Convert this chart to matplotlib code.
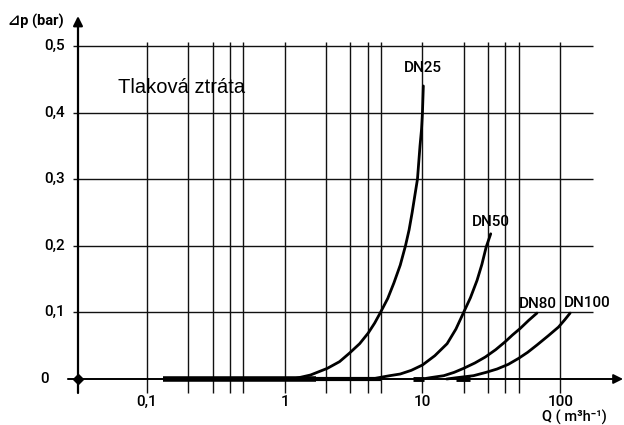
import matplotlib
matplotlib.use("Agg")
import matplotlib.pyplot as plt

# pressure loss curves (Q in m3/h, dp in bar)
dn25_q = [1.15, 1.54, 2.04, 2.5, 2.96, 3.5, 4.04, 4.5, 4.96, 5.6, 6.2, 6.9, 7.53,
          8.0, 8.42, 8.8, 9.2, 9.6, 9.85, 10.0, 10.15]
dn25_dp = [0.0, 0.006, 0.016, 0.026, 0.039, 0.053, 0.069, 0.084, 0.1, 0.121, 0.144,
           0.171, 0.2, 0.224, 0.25, 0.275, 0.3, 0.35, 0.375, 0.4, 0.44]

dn50_q = [4.3, 4.96, 5.8, 6.9, 8.3, 10.0, 12.3, 15.1, 17.5, 19.7, 22.3, 24.9, 27.0, 29.0, 31.3]
dn50_dp = [0.0, 0.0025, 0.005, 0.0075, 0.013, 0.021, 0.035, 0.053, 0.075, 0.098, 0.122,
           0.148, 0.172, 0.198, 0.218]

dn80_q = [10.0, 11.4, 14.3, 17.0, 19.9, 24.0, 28.6, 34.0, 39.9, 45.0, 51.3, 59.0, 67.8]
dn80_dp = [0.0, 0.002, 0.005, 0.01, 0.016, 0.024, 0.033, 0.044, 0.056, 0.066, 0.076,
           0.088, 0.099]

dn100_q = [15.0, 17.8, 23.5, 29.0, 34.8, 42.0, 49.9, 58.0, 67.8, 82.0, 97.2, 108.0, 118.0]
dn100_dp = [0.0, 0.002, 0.005, 0.01, 0.015, 0.022, 0.031, 0.04, 0.051, 0.065, 0.078,
            0.089, 0.099]

# thick bars along the zero line (start, end)
bars = [(0.131, 1.7), (1.7, 5.0), (8.6, 10.3), (17.5, 22.0)]
bar_widths = [4.0, 3.0, 3.5, 3.5]

labels = ["DN25", "DN50", "DN80", "DN100"]
label_pos = [(10.1, 0.467), (31.5, 0.235), (69.0, 0.113), (157.0, 0.114)]

grid_q = [0.1, 0.2, 0.3, 0.4, 0.5, 1, 2, 3, 4, 5, 10, 20, 30, 40, 50, 100]
grid_dp = [0.1, 0.2, 0.3, 0.4, 0.5]
xticks = [0.1, 1, 10, 100]
xticklabels = ["0,1", "1", "10", "100"]
yticks = [0, 0.1, 0.2, 0.3, 0.4, 0.5]
yticklabels = ["0", "0,1", "0,2", "0,3", "0,4", "0,5"]

x0, x1 = 0.0316, 173.0
fam = ["Roboto", "DejaVu Sans"]

fig = plt.figure(figsize=(6.24, 4.25), dpi=100)
ax = fig.add_axes([78 / 624, 46 / 425, (593 - 78) / 624, (379 - 46) / 425])
ax.set_xscale("log")
ax.set_xlim(x0, x1)
ax.set_ylim(0, 0.5)
ax.axis("off")

# grid
ax.vlines(grid_q, -0.021, 0.506, color="#111111", lw=1.0, clip_on=False)
ax.hlines(grid_dp, 0.0292, x1, color="#111111", lw=1.0, clip_on=False)

# axes with arrows
ax.annotate("", xy=(x0, 0.545), xytext=(x0, -0.021),
            arrowprops=dict(arrowstyle="-|>", color="k", lw=1.6, mutation_scale=14,
                            shrinkA=0, shrinkB=0), annotation_clip=False)
ax.annotate("", xy=(286, 0), xytext=(0.0267, 0),
            arrowprops=dict(arrowstyle="-|>", color="k", lw=1.4, mutation_scale=14,
                            shrinkA=0, shrinkB=0), annotation_clip=False)
ax.plot([x0], [0], marker="D", color="k", ms=5, clip_on=False)

# zero-line bars
for (a, b), w in zip(bars, bar_widths):
    ax.plot([a, b], [0, 0], color="k", lw=w, solid_capstyle="butt", clip_on=False)

# curves
for q, dp in [(dn25_q, dn25_dp), (dn50_q, dn50_dp), (dn80_q, dn80_dp), (dn100_q, dn100_dp)]:
    ax.plot(q, dp, color="k", lw=2.0, solid_capstyle="round", solid_joinstyle="round",
            clip_on=False)

for lab, (q, dp) in zip(labels, label_pos):
    ax.text(q, dp, lab, ha="center", va="center", fontsize=11, fontweight="medium",
            family=fam)

# tick labels
for q, lab in zip(xticks, xticklabels):
    ax.text(q, -0.034, lab, ha="center", va="center", fontsize=11, fontweight="medium",
            family=fam)
for dp, lab in zip(yticks, yticklabels):
    xr = 0.0195 if dp == 0 else 0.0255
    ax.text(xr, dp, lab, ha="right", va="center", fontsize=11, fontweight="medium",
            family=fam)

ax.text(219, -0.057, "Q ( m³h⁻¹)", ha="right", va="center", fontsize=10.5,
        fontweight="medium", family=fam)
ax.text(0.0098, 0.537, "⊿p (bar)", ha="left", va="center", fontsize=10.5,
        fontweight="bold", family=fam)
ax.text(0.0616, 0.4376, "Tlaková ztráta", ha="left", va="center", fontsize=14.5,
        family=["Liberation Sans"])

fig.savefig("out.png", dpi=100)
